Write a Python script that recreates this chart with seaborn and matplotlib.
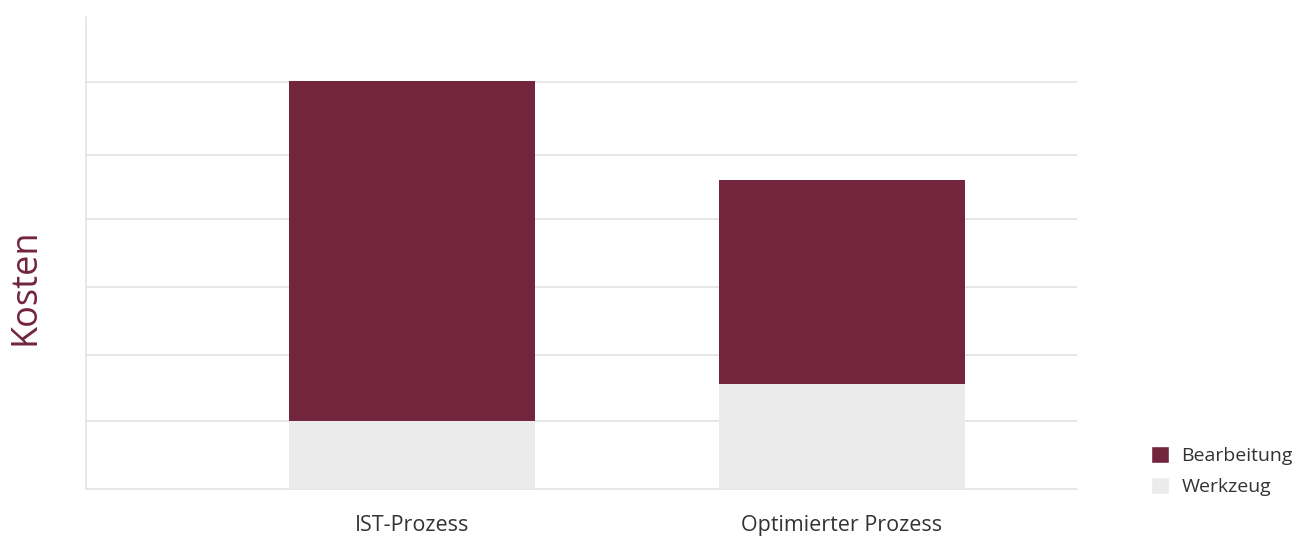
import matplotlib
matplotlib.use('Agg')
import matplotlib.pyplot as plt
import seaborn as sns
import pandas as pd
from matplotlib.patches import Patch

# data
categories = ['IST-Prozess', 'Optimierter Prozess']
werkzeug = [1.0, 1.55]
bearbeitung = [5.0, 3.0]
grid_levels = [1.0, 1.97, 2.97, 3.97, 4.91, 5.99]

MAROON = '#72253D'
LIGHT = '#EBEBEB'
GRID = '#E3E3E3'

sns.set_theme(style='white')
plt.rcParams['font.family'] = ['Open Sans', 'DejaVu Sans']

df = pd.DataFrame({'Prozess': categories, 'Werkzeug': werkzeug, 'Bearbeitung': bearbeitung})
df['Gesamt'] = df['Werkzeug'] + df['Bearbeitung']

fig = plt.figure(figsize=(12.99, 5.38), dpi=100)
ax = fig.add_axes([86 / 1299, 1 - 489 / 538, (1077 - 86) / 1299, (489 - 17) / 538])

sns.barplot(data=df, x='Prozess', y='Gesamt', color=MAROON, width=0.572,
            saturation=1, linewidth=0, ax=ax, zorder=2)
sns.barplot(data=df, x='Prozess', y='Werkzeug', color=LIGHT, width=0.572,
            saturation=1, linewidth=0, ax=ax, zorder=3)

ax.set_xlim(-0.758, 1.547)
ax.set_ylim(0, 6.94)
ax.set_yticks(grid_levels)
ax.set_yticklabels([])
ax.yaxis.grid(True, color=GRID, linewidth=1.2, zorder=0)
ax.set_axisbelow(True)
ax.tick_params(axis='both', length=0)
ax.tick_params(axis='x', labelsize=15.5, labelcolor='#333333', pad=19)

for side in ['top', 'right']:
    ax.spines[side].set_visible(False)
for side in ['left', 'bottom']:
    ax.spines[side].set_color(GRID)
    ax.spines[side].set_linewidth(1.2)

ax.set_xlabel('')
ax.set_ylabel('Kosten', fontsize=26, color=MAROON)
ax.yaxis.set_label_coords(-0.043, 0.428)

handles = [Patch(facecolor=MAROON, label='Bearbeitung'),
           Patch(facecolor=LIGHT, label='Werkzeug')]
fig.legend(handles=handles, loc='center left', bbox_to_anchor=(1133 / 1299, 1 - 471 / 538),
           frameon=False, fontsize=14, handlelength=0.95, handleheight=0.95,
           handletextpad=0.65, labelspacing=0.62, labelcolor='#333333')

fig.savefig('out.png', dpi=100)
